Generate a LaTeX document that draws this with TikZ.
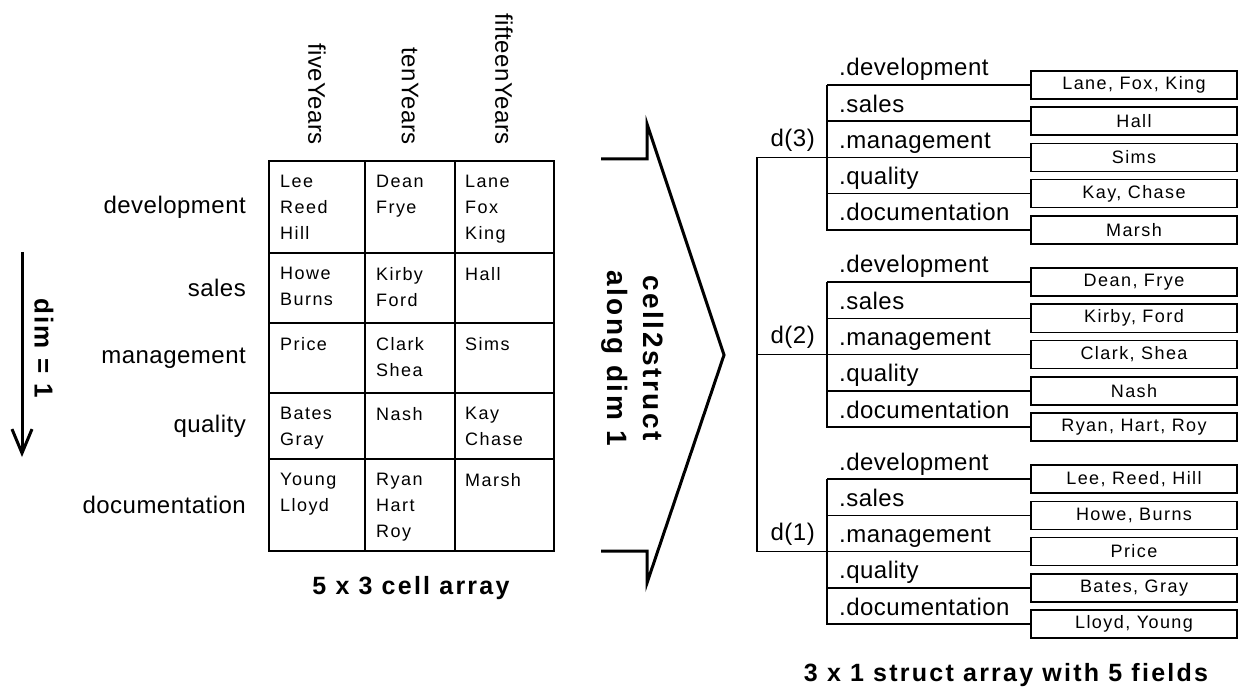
\documentclass[tikz,border=0pt]{standalone}
\usepackage{fontspec}
\setmainfont{Liberation Sans}
\newfontfamily\labelfont[LetterSpace=2]{Liberation Sans}
\newfontfamily\namefont[LetterSpace=8]{Liberation Sans}
\newfontfamily\titlefont[LetterSpace=9]{Liberation Sans}
\usetikzlibrary{arrows.meta}

\begin{document}
\begin{tikzpicture}[x=1pt, y=-1pt,
    txt/.style={inner sep=0pt, font=\labelfont\fontsize{24}{28}\selectfont},
    rowname/.style={txt, anchor=east},
    colname/.style={txt, anchor=east, rotate=-90},
    field/.style={txt, anchor=base west},
    elem/.style={txt, anchor=base east},
    cell/.style={inner sep=0pt, anchor=north west, align=left, font=\namefont\fontsize{18}{26}\selectfont},
    valbox/.style={rectangle, draw, line width=1.5pt, minimum width=206pt, minimum height=28pt, inner sep=0pt, font=\namefont\fontsize{18}{22}\selectfont},
    heading/.style={inner sep=0pt, font=\titlefont\bfseries\fontsize{25}{30}\selectfont},
    tablerule/.style={draw, line width=2pt},
    branch/.style={draw, line width=1.5pt},
    chevron/.style={draw, line width=3pt}]

    \useasboundingbox (0,0) rectangle (1241,692);

    % dimension arrow
    \coordinate (dtop) at (22,252);
    \coordinate (dbot) at (22,457);
    \draw [line width=3pt, -{Straight Barb[length=24pt, width=20pt]}] (dtop) -- (dbot);
    \node [heading, rotate=-90, font=\titlefont\bfseries\fontsize{26}{30}\selectfont] (dim) at (44,348) {dim = 1};

    % cell array
    \node [colname] (five) at (317,145) {fiveYears};
    \node [colname] (ten) at (410,145) {tenYears};
    \node [colname] (fifteen) at (504,145) {fifteenYears};

    \node [rowname] (rdev) at (246,207) {development};
    \node [rowname] (rsal) at (246,288) {sales};
    \node [rowname] (rman) at (246,358) {management};
    \node [rowname] (rqua) at (246,426) {quality};
    \node [rowname] (rdoc) at (246,505) {documentation};

    \draw [tablerule] (269,161) rectangle (554,551);
    \draw [tablerule] (365,161) -- (365,551) (455,161) -- (455,551);
    \draw [tablerule] (269,253) -- (554,253) (269,323) -- (554,323)
        (269,393) -- (554,393) (269,459) -- (554,459);

    \node [cell] (c11) at (280,175) {Lee\\Reed\\Hill};
    \node [cell] (c12) at (376,175) {Dean\\Frye};
    \node [cell] (c13) at (465,175) {Lane\\Fox\\King};
    \node [cell] (c21) at (280,267) {Howe\\Burns};
    \node [cell] (c22) at (376,267) {Kirby\\Ford};
    \node [cell] (c23) at (465,267) {Hall};
    \node [cell] (c31) at (280,337) {Price};
    \node [cell] (c32) at (376,337) {Clark\\Shea};
    \node [cell] (c33) at (465,337) {Sims};
    \node [cell] (c41) at (280,407) {Bates\\Gray};
    \node [cell] (c42) at (376,407) {Nash};
    \node [cell] (c43) at (465,407) {Kay\\Chase};
    \node [cell] (c51) at (280,473) {Young\\Lloyd};
    \node [cell] (c52) at (376,473) {Ryan\\Hart\\Roy};
    \node [cell] (c53) at (465,473) {Marsh};

    \node [heading] (cellcap) at (411,588) {5 x 3 cell array};

    % conversion
    \draw [chevron] (601,159) -- (647,159) -- (647,124) -- (724,355) -- (647,583) -- (647,551) -- (601,551);
    \node [heading, rotate=-90, align=center, font=\titlefont\bfseries\fontsize{28}{36}\selectfont] (conv) at (633,358) {cell2struct\\along dim 1};

    % struct array
    \node [elem] (d3) at (815,146.5) {d(3)};
    \node [elem] (d2) at (815,343.5) {d(2)};
    \node [elem] (d1) at (815,540.5) {d(1)};

    \node [valbox] (dev3) at (1134,85) {Lane, Fox, King};
    \node [valbox] (sal3) at (1134,121.25) {Hall};
    \node [valbox] (man3) at (1134,157.5) {Sims};
    \node [valbox] (qua3) at (1134,193.75) {Kay, Chase};
    \node [valbox] (doc3) at (1134,230) {Marsh};
    \node [valbox] (dev2) at (1134,282) {Dean, Frye};
    \node [valbox] (sal2) at (1134,318.25) {Kirby, Ford};
    \node [valbox] (man2) at (1134,354.5) {Clark, Shea};
    \node [valbox] (qua2) at (1134,390.75) {Nash};
    \node [valbox] (doc2) at (1134,427) {Ryan, Hart, Roy};
    \node [valbox] (dev1) at (1134,479) {Lee, Reed, Hill};
    \node [valbox] (sal1) at (1134,515.25) {Howe, Burns};
    \node [valbox] (man1) at (1134,551.5) {Price};
    \node [valbox] (qua1) at (1134,587.75) {Bates, Gray};
    \node [valbox] (doc1) at (1134,624) {Lloyd, Young};

    \node [field] (fdev3) at (839,76) {.development};
    \node [field] (fsal3) at (839,112.25) {.sales};
    \node [field] (fman3) at (839,148.5) {.management};
    \node [field] (fqua3) at (839,184.75) {.quality};
    \node [field] (fdoc3) at (839,221) {.documentation};
    \node [field] (fdev2) at (839,273) {.development};
    \node [field] (fsal2) at (839,309.25) {.sales};
    \node [field] (fman2) at (839,345.5) {.management};
    \node [field] (fqua2) at (839,381.75) {.quality};
    \node [field] (fdoc2) at (839,418) {.documentation};
    \node [field] (fdev1) at (839,470) {.development};
    \node [field] (fsal1) at (839,506.25) {.sales};
    \node [field] (fman1) at (839,542.5) {.management};
    \node [field] (fqua1) at (839,578.75) {.quality};
    \node [field] (fdoc1) at (839,615) {.documentation};

    \coordinate (root) at (757,157.5);
    \coordinate (top3) at (827,85);
    \coordinate (top2) at (827,282);
    \coordinate (top1) at (827,479);

    \path [branch] (root) -- (man3.west);
    \path [branch] (root) |- (man2.west);
    \path [branch] (root) |- (man1.west);
    \path [branch] (top3) -- (dev3.west) (top3) |- (sal3.west) (top3) |- (qua3.west) (top3) |- (doc3.west);
    \path [branch] (top2) -- (dev2.west) (top2) |- (sal2.west) (top2) |- (qua2.west) (top2) |- (doc2.west);
    \path [branch] (top1) -- (dev1.west) (top1) |- (sal1.west) (top1) |- (qua1.west) (top1) |- (doc1.west);

    \node [heading] (structcap) at (1006,675) {3 x 1 struct array with 5 fields};
\end{tikzpicture}
\end{document}
